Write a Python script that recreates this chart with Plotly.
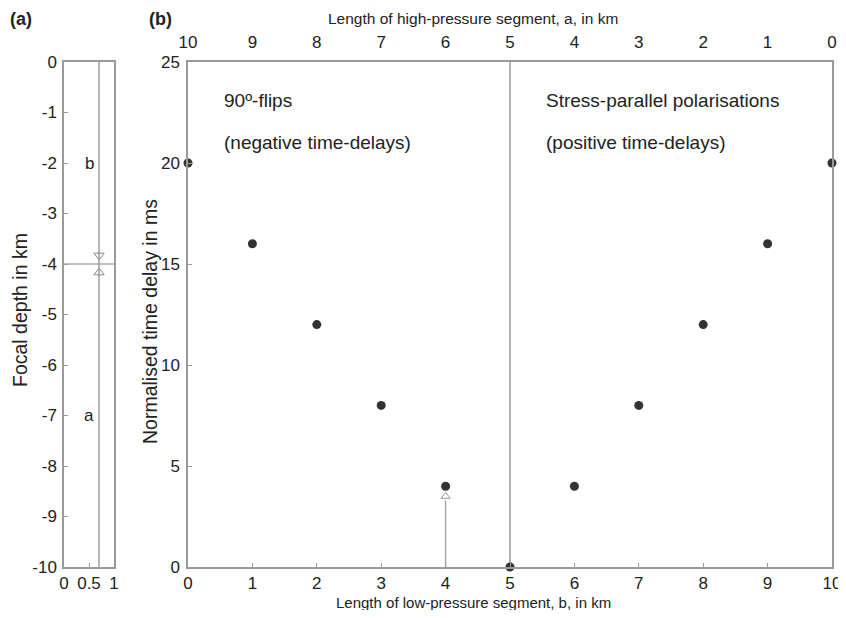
import plotly.graph_objects as go

# Panel (b) data
low_b = [0, 1, 2, 3, 4, 5, 6, 7, 8, 9, 10]
delay_ms = [20, 16, 12, 8, 4, 0, 4, 8, 12, 16, 20]
top_ticks_vals = [0, 1, 2, 3, 4, 5, 6, 7, 8, 9, 10]
top_ticks_text = ["10", "9", "8", "7", "6", "5", "4", "3", "2", "1", "0"]
# Panel (a) data
depth_ticks = [0, -1, -2, -3, -4, -5, -6, -7, -8, -9, -10]
depth_boundary = -4
column_x = 0.7
arrow_x = 4
arrow_top = 3.5

# the page body has an 8px margin; lay out in window pixels
OFF = 8
W, H = 846 - 2 * OFF, 618 - 2 * OFF
def px(x): return (x - OFF) / W
def py(y): return 1 - (y - OFF) / H

AX = "#9a9a9a"
MK = "#333333"
FONT = "Liberation Sans, Arial"

fig = go.Figure()

# Panel (a)
fig.add_trace(go.Scatter(x=[column_x, column_x], y=[0, -10], mode="lines",
                         line=dict(color="#888", width=1.2), xaxis="x", yaxis="y", showlegend=False))
fig.add_trace(go.Scatter(x=[0, 1], y=[depth_boundary, depth_boundary], mode="lines",
                         line=dict(color="#888", width=1.2), xaxis="x", yaxis="y", showlegend=False))
fig.add_trace(go.Scatter(x=[column_x, column_x], y=[depth_boundary + 0.17, depth_boundary - 0.17],
                         mode="markers", marker=dict(symbol=["triangle-down-open", "triangle-up-open"],
                                                     size=9, color="#888", line=dict(width=1)),
                         xaxis="x", yaxis="y", showlegend=False))

# Panel (b)
fig.add_trace(go.Scatter(x=[5, 5], y=[0, 25], mode="lines",
                         line=dict(color="#999", width=1.5), xaxis="x2", yaxis="y2", showlegend=False))
fig.add_trace(go.Scatter(x=[arrow_x, arrow_x], y=[0, arrow_top - 0.2], mode="lines",
                         line=dict(color="#aaa", width=1.5), xaxis="x2", yaxis="y2", showlegend=False))
fig.add_trace(go.Scatter(x=[arrow_x], y=[arrow_top], mode="markers",
                         marker=dict(symbol="triangle-up-open", size=8, color="#999", line=dict(width=1)),
                         xaxis="x2", yaxis="y2", showlegend=False))
fig.add_trace(go.Scatter(x=low_b, y=delay_ms, mode="markers",
                         marker=dict(color=MK, size=9), xaxis="x2", yaxis="y2",
                         showlegend=False, cliponaxis=False))
# dummy trace for top axis
fig.add_trace(go.Scatter(x=[0, 10], y=[0, 0], mode="markers", marker=dict(opacity=0),
                         xaxis="x3", yaxis="y2", showlegend=False, hoverinfo="skip"))

common = dict(showgrid=False, zeroline=False, showline=True, linecolor=AX, linewidth=1.5,
              mirror=True, ticks="inside", ticklen=4, tickcolor=AX, automargin=False,
              tickfont=dict(family=FONT, size=17, color="#222"))

TOP, BOT = 62, 567
fig.update_layout(
    width=W, height=H, margin=dict(l=0, r=0, t=0, b=0),
    paper_bgcolor="white", plot_bgcolor="white",
    font=dict(family=FONT, color="#222"),
    xaxis=dict(domain=[px(64), px(114)], range=[0, 1], tickvals=[0, 0.5, 1],
               ticktext=["0", "0.5", "1"], **common),
    yaxis=dict(domain=[py(BOT), py(TOP)], range=[-10, 0], anchor="x", ticklabelstandoff=2,
               tickvals=depth_ticks, ticktext=[str(v) for v in depth_ticks], **common),
    xaxis2=dict(domain=[px(188), px(832)], range=[0, 10], dtick=1, anchor="y2",
                ticklabeloverflow="allow", **common),
    yaxis2=dict(domain=[py(BOT), py(TOP)], range=[0, 25], dtick=5, anchor="x2", ticklabelstandoff=3,
                **common),
    xaxis3=dict(domain=[px(188), px(832)], range=[0, 10], overlaying="x2", side="top", anchor="y2",
                tickvals=top_ticks_vals, ticktext=top_ticks_text, automargin=False,
                ticklabelstandoff=10, ticklabeloverflow="allow",
                showgrid=False, zeroline=False, showline=False, ticks="",
                tickfont=dict(family=FONT, size=17, color="#222")),
)

def paper_text(text, x, y, size, angle=0, xanchor="center", bold=False):
    return dict(text=f"<b>{text}</b>" if bold else text, x=px(x), y=py(y), xref="paper", yref="paper",
                showarrow=False, xanchor=xanchor, yanchor="middle", textangle=angle,
                font=dict(family=FONT, size=size))

ann = [
    paper_text("(a)", 8, 19, 18, xanchor="left", bold=True),
    paper_text("(b)", 147, 19, 18, xanchor="left", bold=True),
    paper_text("Length of high-pressure segment, a, in km", 473, 19, 15.5),
    paper_text("Length of low-pressure segment, b, in km", 473, 602, 15),
    paper_text("Focal depth in km", 20, 310, 19.5, angle=-90),
    paper_text("Normalised time delay in ms", 150, 322, 19.5, angle=-90),
]
ann.append(dict(text="b", x=0.5, y=-2, xref="x", yref="y", showarrow=False,
                xanchor="center", yanchor="middle", font=dict(family=FONT, size=17)))
ann.append(dict(text="a", x=0.5, y=-7, xref="x", yref="y", showarrow=False,
                xanchor="center", yanchor="middle", font=dict(family=FONT, size=17)))
for t, xx, yy in [("90º-flips", 0.53, 23.1), ("(negative time-delays)", 0.53, 21.0),
                  ("Stress-parallel polarisations", 5.53, 23.1), ("(positive time-delays)", 5.53, 21.0)]:
    ann.append(dict(text=t, x=xx, y=yy, xref="x2", yref="y2", showarrow=False, xanchor="left",
                    yanchor="middle", font=dict(family=FONT, size=19)))
fig.update_layout(annotations=ann)

fig.write_html("out.html")
